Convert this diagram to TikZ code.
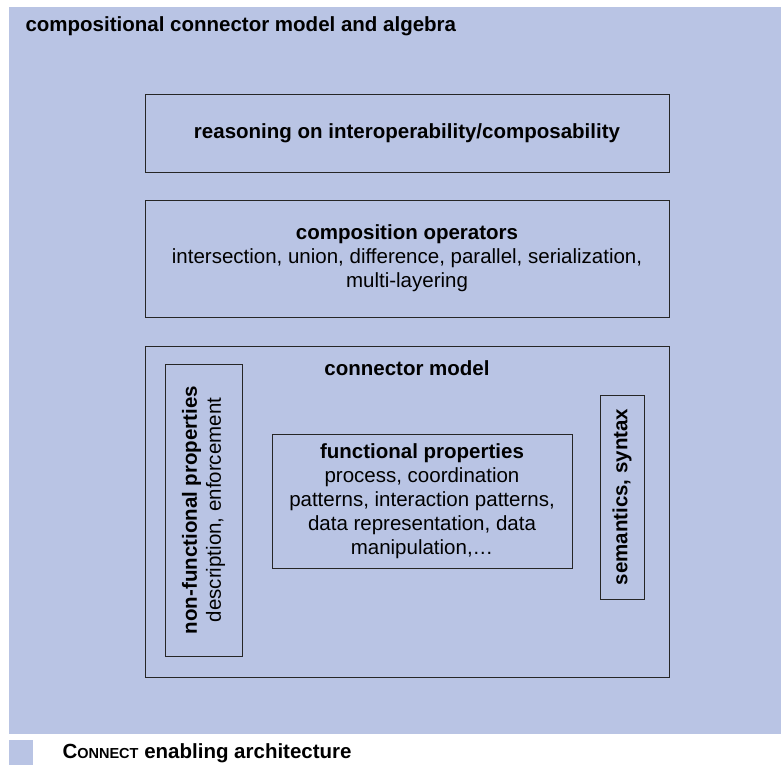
\documentclass[tikz,border=0pt]{standalone}
\usepackage{fontspec}
\setmainfont{Liberation Sans}
\definecolor{bg}{RGB}{185,196,228}
\begin{document}
\begin{tikzpicture}[x=1pt,y=-1pt,
  box/.style={draw=black!85, line width=0.9pt, inner sep=0pt},
  txt/.style={font=\fontsize{20.5}{24}\selectfont, align=center, text=black}]
\useasboundingbox (0,0) rectangle (781,765);
\fill[bg] (9,7) rectangle (781,734);
\node[txt, anchor=west, font=\fontsize{20.5}{24}\selectfont\bfseries] (title) at (22,26) {compositional connector model and algebra};
\node[box, txt, minimum width=524pt, minimum height=78pt] (reason) at (407,133.5)
  {\textbf{reasoning on interoperability/composability}};
\node[box, txt, minimum width=524pt, minimum height=117pt] (ops) at (407,258.5)
  {\textbf{composition operators}\\intersection, union, difference, parallel, serialization,\\multi-layering};
\node[box, minimum width=524pt, minimum height=331pt] (model) at (407,511.5) {};
\node[txt, font=\fontsize{20.5}{24}\selectfont\bfseries] (modeltitle) at (407,368) {connector model};
\node[box, minimum width=77pt, minimum height=292pt] (nfbox) at (203.5,510) {};
\node[txt, rotate=90] (nf) at (nfbox.center) {\textbf{non-functional properties}\\description, enforcement};
\node[box, minimum width=44pt, minimum height=204pt] (sembox) at (622,497) {};
\node[txt, rotate=90, font=\fontsize{20.5}{24}\selectfont\bfseries] (sem) at (sembox.center) {semantics, syntax};
\node[box, txt, minimum width=300pt, minimum height=134pt] (func) at (422,501)
  {\textbf{functional properties}\\process, coordination\\patterns, interaction patterns,\\data representation, data\\manipulation,\dots};
\fill[bg] (9,740) rectangle (33,765);
\node[txt, anchor=west, font=\fontsize{20.5}{24}\selectfont\bfseries] (legend) at (59,753)
  {C{\fontsize{14.5}{24}\selectfont ONNECT} enabling architecture};
\end{tikzpicture}
\end{document}
